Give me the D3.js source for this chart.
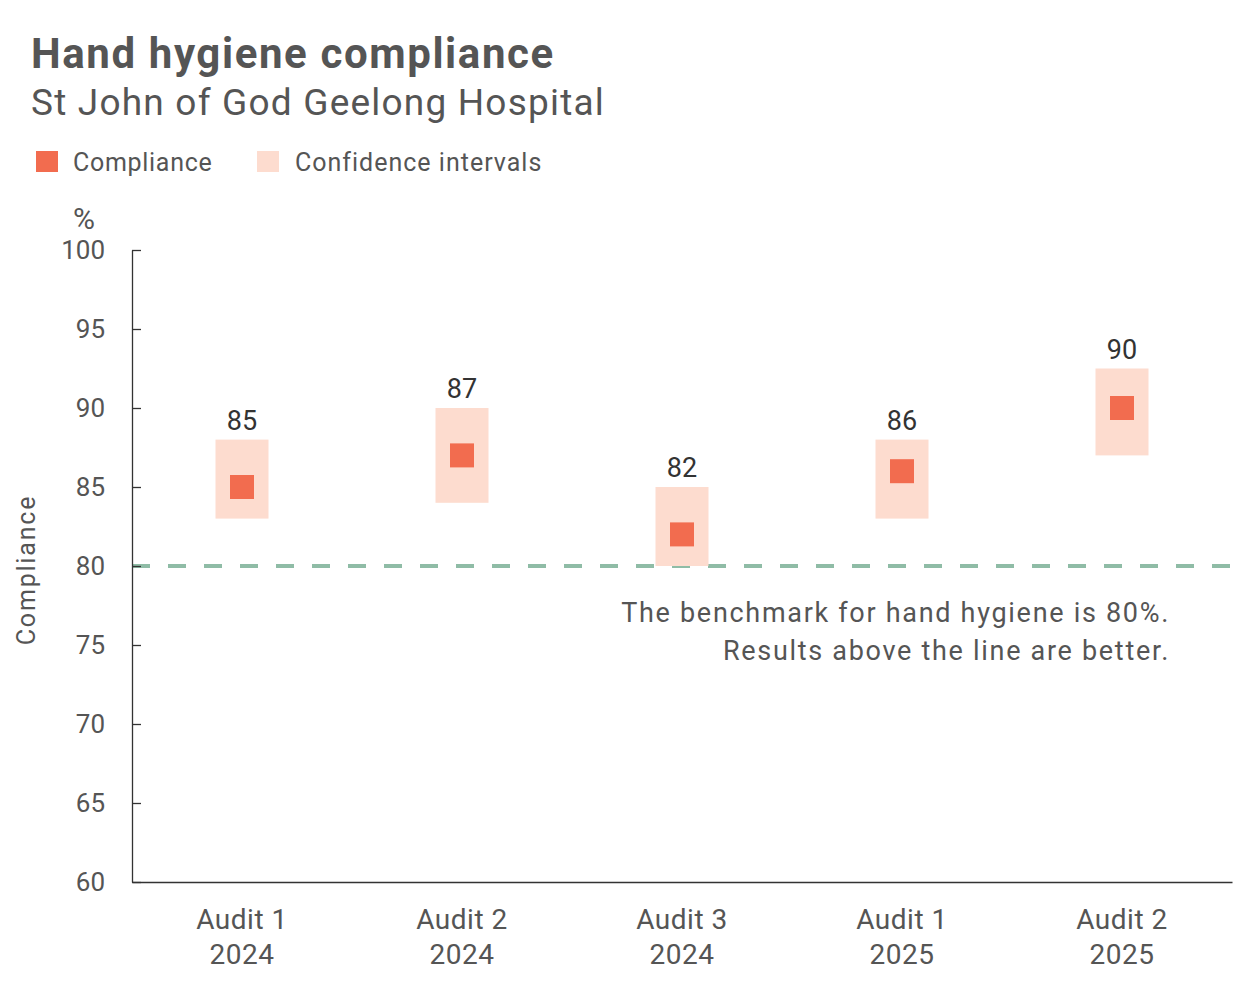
<!DOCTYPE html>
<html>
<head>
<meta charset="utf-8">
<script src="https://cdn.jsdelivr.net/npm/d3@7"></script>
<style>
    body {
        margin: 0;
        background: #fff;
        font-family: Roboto, "Noto Sans", sans-serif;
    }
    .axis path, .axis line {
        stroke: #333;
        stroke-width: 1.3px;
    }
    .axis text {
        font-family: Roboto, sans-serif;
        font-size: 26px;
        fill: #555;
    }
</style>
</head>
<body>
<script>

// chart data
var audits   = ["Audit 1", "Audit 2", "Audit 3", "Audit 1", "Audit 2"];
var years    = ["2024", "2024", "2024", "2025", "2025"];
var compliance = [85, 87, 82, 86, 90];
var ciLower  = [83, 84, 80, 83, 87];
var ciUpper  = [88, 90, 85, 88, 92.5];
var benchmark = 80;
var yTicks = [60, 65, 70, 75, 80, 85, 90, 95, 100];

var width = 1260,
    height = 981;

var orange = "#f26c4f",
    peach = "#fddccf",
    grey = "#555";

var data = audits.map(function(a, i) {
    return {key: i, audit: a, year: years[i], value: compliance[i], lo: ciLower[i], hi: ciUpper[i]};
});

var svg = d3.select("body").append("svg")
    .attr("width", width)
    .attr("height", height);

// title block
svg.append("text")
    .attr("x", 31).attr("y", 68)
    .style("font-size", "42px")
    .style("font-weight", "bold")
    .style("letter-spacing", "1.6px")
    .style("fill", grey)
    .text("Hand hygiene compliance");

svg.append("text")
    .attr("x", 31).attr("y", 115)
    .style("font-size", "37px")
    .style("letter-spacing", "1.2px")
    .style("fill", grey)
    .text("St John of God Geelong Hospital");

// legend
var legend = svg.append("g").attr("class", "legend");
legend.append("rect").attr("x", 36).attr("y", 151).attr("width", 22).attr("height", 21).style("fill", orange);
legend.append("text").attr("x", 73).attr("y", 171).style("font-size", "25px").style("letter-spacing", "0.7px").style("fill", grey).text("Compliance");
legend.append("rect").attr("x", 257).attr("y", 151).attr("width", 22).attr("height", 21).style("fill", peach);
legend.append("text").attr("x", 295).attr("y", 171).style("font-size", "25px").style("letter-spacing", "1px").style("fill", grey).text("Confidence intervals");

// scales
var x = d3.scaleBand()
    .domain(data.map(function(d) { return d.key; }))
    .range([132, 1232]);

var y = d3.scaleLinear()
    .domain([60, 100])
    .range([882, 250]);

function cx(d) { return x(d.key) + x.bandwidth() / 2; }

// benchmark line
svg.append("line")
    .attr("x1", 132).attr("x2", 1232)
    .attr("y1", y(benchmark)).attr("y2", y(benchmark))
    .style("stroke", "#8fbca6")
    .style("stroke-width", 4)
    .style("stroke-dasharray", "18,18");

// confidence interval boxes
var ciW = 53;
svg.selectAll("rect.ci")
    .data(data)
    .enter().append("rect")
    .attr("class", "ci")
    .attr("x", function(d) { return cx(d) - ciW / 2; })
    .attr("y", function(d) { return y(d.hi); })
    .attr("width", ciW)
    .attr("height", function(d) { return y(d.lo) - y(d.hi); })
    .style("fill", peach);

// compliance markers
var mk = 24;
svg.selectAll("rect.marker")
    .data(data)
    .enter().append("rect")
    .attr("class", "marker")
    .attr("x", function(d) { return cx(d) - mk / 2; })
    .attr("y", function(d) { return y(d.value) - mk / 2; })
    .attr("width", mk)
    .attr("height", mk)
    .style("fill", orange);

// value labels
svg.selectAll("text.val")
    .data(data)
    .enter().append("text")
    .attr("class", "val")
    .attr("x", cx)
    .attr("y", function(d) { return y(d.hi) - 10; })
    .attr("text-anchor", "middle")
    .style("font-size", "27px")
    .style("fill", "#333")
    .text(function(d) { return d.value; });

// y axis
svg.append("g")
    .attr("class", "axis")
    .attr("transform", "translate(132,0)")
    .call(d3.axisLeft(y).tickValues(yTicks).tickSize(-9).tickSizeOuter(0).tickPadding(27));

svg.append("text")
    .attr("x", 84).attr("y", 229)
    .attr("text-anchor", "middle")
    .style("font-size", "30px")
    .style("fill", grey)
    .text("%");

svg.append("text")
    .attr("transform", "translate(35,570) rotate(-90)")
    .attr("text-anchor", "middle")
    .style("font-size", "25px")
    .style("letter-spacing", "1.8px")
    .style("fill", grey)
    .text("Compliance");

// x axis
var xAxis = svg.append("g")
    .attr("class", "axis")
    .attr("transform", "translate(0,882)")
    .call(d3.axisBottom(x).tickSize(0).tickSizeOuter(0).tickFormat(""));

xAxis.selectAll(".tick text").remove();
var xl = xAxis.selectAll(".tick").append("text")
    .attr("text-anchor", "middle")
    .style("font-size", "28px")
    .style("letter-spacing", "0.5px");
xl.append("tspan").attr("x", 0).attr("y", 47).text(function(d) { return audits[d]; });
xl.append("tspan").attr("x", 0).attr("y", 82).text(function(d) { return years[d]; });

// annotation
var note = svg.append("text")
    .attr("text-anchor", "end")
    .style("font-size", "27px")
    .style("letter-spacing", "1.7px")
    .style("fill", grey);
note.append("tspan").attr("x", 1170).attr("y", 622).text("The benchmark for hand hygiene is 80%.");
note.append("tspan").attr("x", 1170).attr("y", 660).text("Results above the line are better.");

</script>
</body>
</html>
